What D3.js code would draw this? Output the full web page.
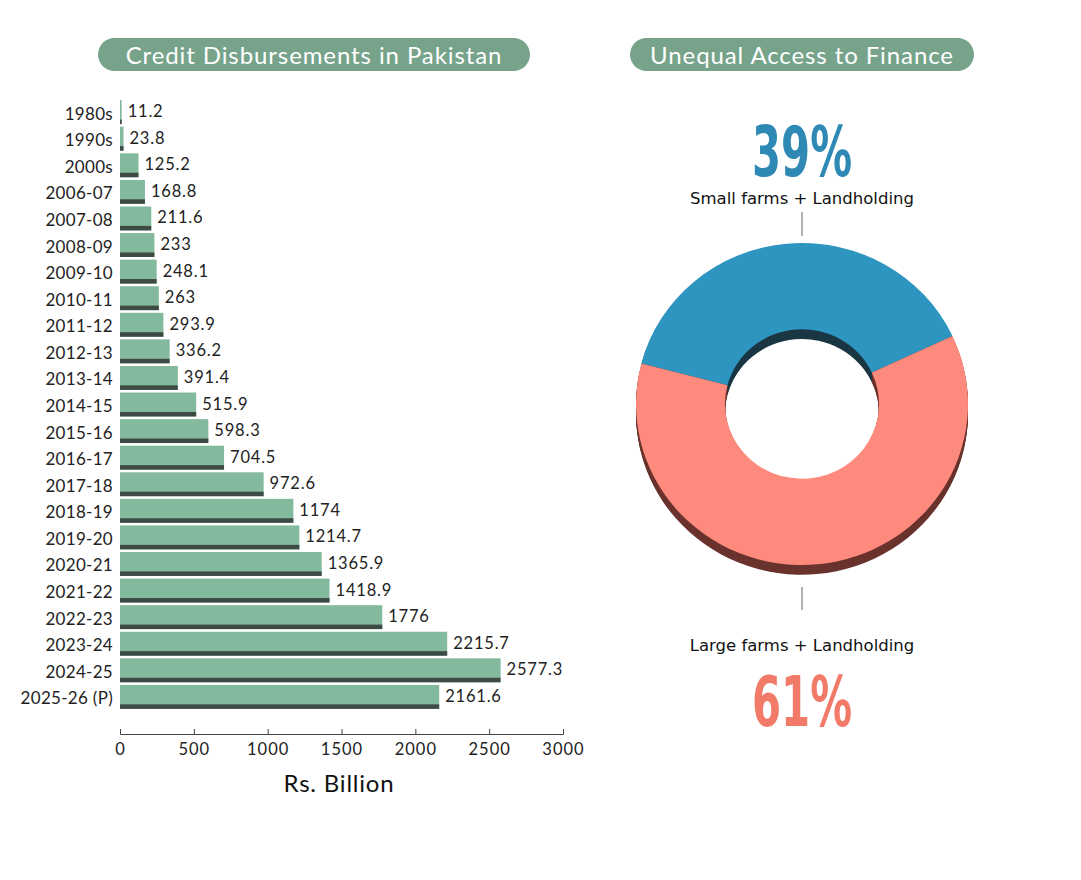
<!DOCTYPE html>
<html>
<head>
<meta charset="utf-8">
<script src="https://cdn.jsdelivr.net/npm/d3@7"></script>
<style>
  body { margin: 0; background: #fff; }
  svg { display: block; }
  .axis text { font-family: Lato, sans-serif; font-size: 16.5px; letter-spacing: 1px; fill: #222; }
  .axis path, .axis line { stroke: #444; }
</style>
</head>
<body>
<svg></svg>
<script>
var svg = d3.select("svg");
var width = 1081;
var height = 880;

// bar chart data
var periods = ["1980s", "1990s", "2000s", "2006-07", "2007-08", "2008-09", "2009-10",
               "2010-11", "2011-12", "2012-13", "2013-14", "2014-15", "2015-16", "2016-17",
               "2017-18", "2018-19", "2019-20", "2020-21", "2021-22", "2022-23", "2023-24",
               "2024-25", "2025-26 (P)"];
var amounts = [11.2, 23.8, 125.2, 168.8, 211.6, 233, 248.1, 263, 293.9, 336.2, 391.4,
               515.9, 598.3, 704.5, 972.6, 1174, 1214.7, 1365.9, 1418.9, 1776, 2215.7,
               2577.3, 2161.6];
var xTicks = [0, 500, 1000, 1500, 2000, 2500, 3000];

// donut data
var groups = ["Small farms + Landholding", "Large farms + Landholding"];
var shares = [39, 61];

var green = "#83b99c";
var greenDark = "#3e4a44";
var pill = "#76a38a";
var blue = "#2e95c0";
var salmon = "#fd8a7c";

svg.attr("width", width).attr("height", height);

// ---------- title pills ----------
var titles = [
  {text: "Credit Disbursements in Pakistan", x: 98, w: 432},
  {text: "Unequal Access to Finance", x: 630, w: 344}
];
titles.forEach(function(t) {
  svg.append("rect")
    .attr("x", t.x).attr("y", 38)
    .attr("width", t.w).attr("height", 33)
    .attr("rx", 16.5)
    .attr("fill", pill);
  svg.append("text")
    .attr("x", t.x + t.w / 2).attr("y", 54.5)
    .attr("text-anchor", "middle")
    .attr("dominant-baseline", "central")
    .style("font-family", "Lato, sans-serif")
    .style("font-size", "24px")
    .style("letter-spacing", "0.9px")
    .attr("fill", "#fff")
    .text(t.text);
});

// ---------- bar chart ----------
var x = d3.scaleLinear()
  .domain([0, 3000])
  .range([120, 563]);

var y = d3.scaleBand()
  .domain(periods)
  .range([97.5, 711.5])
  .padding(0.1);

var bars = svg.append("g");
var rows = bars.selectAll("g")
  .data(periods)
  .enter().append("g");

rows.append("rect")
  .attr("x", x(0))
  .attr("y", d => y(d))
  .attr("width", (d, i) => x(amounts[i]) - x(0))
  .attr("height", y.bandwidth())
  .attr("fill", green);

rows.append("rect")
  .attr("x", x(0))
  .attr("y", d => y(d) + y.bandwidth() - 4.5)
  .attr("width", (d, i) => x(amounts[i]) - x(0))
  .attr("height", 4.5)
  .attr("fill", greenDark);

rows.append("text")
  .attr("x", x(0) - 7)
  .attr("y", d => y(d) + y.bandwidth() / 2 + 1)
  .attr("text-anchor", "end")
  .attr("dominant-baseline", "central")
  .style("font-family", "Lato, sans-serif")
  .style("font-size", "17px")
  .style("letter-spacing", "0.3px")
  .attr("fill", "#222")
  .text(d => d);

rows.append("text")
  .attr("x", (d, i) => x(amounts[i]) + 6)
  .attr("y", d => y(d) + y.bandwidth() / 2 - 1)
  .attr("dominant-baseline", "central")
  .style("font-family", "Lato, sans-serif")
  .style("font-size", "16.5px")
  .style("letter-spacing", "0.8px")
  .attr("fill", "#222")
  .text((d, i) => amounts[i]);

var xAxis = d3.axisBottom(x)
  .tickValues(xTicks)
  .tickSizeInner(-5)
  .tickSizeOuter(-5)
  .tickPadding(9)
  .tickFormat(d3.format("d"));
svg.append("g")
    .attr("class", "axis")
    .attr("transform", "translate(0,734)")
  .call(xAxis);

svg.append("text")
  .attr("x", 339).attr("y", 782)
  .attr("text-anchor", "middle")
  .attr("dominant-baseline", "central")
  .style("font-family", "Lato, sans-serif")
  .style("font-size", "24px")
  .style("letter-spacing", "0.8px")
  .attr("fill", "#111")
  .text("Rs. Billion");

// ---------- donut ----------
var cx = 802, cy = 404, depth = 10;
var pie = d3.pie()
  .sort(null)
  .startAngle(-1.316)
  .endAngle(-1.316 + 2 * Math.PI);
var arc = d3.arc()
  .innerRadius(77)
  .outerRadius(166);
var slices = pie(shares);
var topColors = [blue, salmon];
var sideColors = ["#1b3744", "#6a332d"];

var donut = svg.append("g")
  .attr("transform", "translate(" + cx + "," + cy + ") scale(1,0.97)");

for (var k = depth; k >= 1; k--) {
  donut.append("g")
    .attr("transform", "translate(0," + k + ")")
    .selectAll("path")
    .data(slices)
    .enter().append("path")
    .attr("d", arc)
    .attr("fill", (d, i) => sideColors[i]);
}

donut.append("g")
  .selectAll("path")
  .data(slices)
  .enter().append("path")
  .attr("d", arc)
  .attr("fill", (d, i) => topColors[i]);

// leader ticks
svg.append("line")
  .attr("x1", cx).attr("x2", cx).attr("y1", 212).attr("y2", 236)
  .attr("stroke", "#999").attr("stroke-width", 1.5);
svg.append("line")
  .attr("x1", cx).attr("x2", cx).attr("y1", 587).attr("y2", 610)
  .attr("stroke", "#999").attr("stroke-width", 1.5);

// labels
var labelPos = [
  {pctY: 176, nameY: 198, color: "#2e8ab5"},
  {pctY: 726, nameY: 645, color: "#f27a68"}
];
shares.forEach(function(s, i) {
  svg.append("text")
    .attr("x", cx).attr("y", labelPos[i].pctY)
    .attr("text-anchor", "middle")
    .attr("textLength", 100)
    .attr("lengthAdjust", "spacingAndGlyphs")
    .style("font-family", "'Liberation Sans Narrow', 'DejaVu Sans Condensed', sans-serif")
    .style("font-weight", "bold")
    .style("font-size", "70px")
    .attr("fill", labelPos[i].color)
    .text(s + "%");
  svg.append("text")
    .attr("x", cx).attr("y", labelPos[i].nameY)
    .attr("text-anchor", "middle")
    .attr("dominant-baseline", "central")
    .style("font-family", "'DejaVu Sans', sans-serif")
    .style("font-size", "16.5px")
    .attr("fill", "#111")
    .text(groups[i]);
});
</script>
</body>
</html>
